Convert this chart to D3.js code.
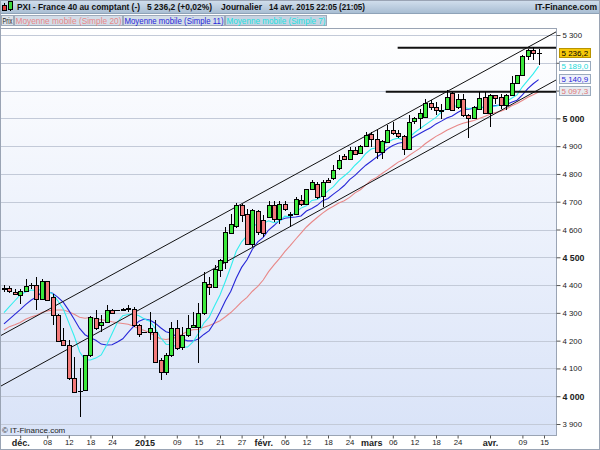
<!DOCTYPE html>
<html><head><meta charset="utf-8">
<script src="https://cdn.jsdelivr.net/npm/d3@7"></script>
<style>body{margin:0;background:#fff}svg{display:block}text{font-family:"Liberation Sans",Arial,sans-serif}</style>
</head><body><svg id="c" width="600" height="450"></svg>
<script>
// ---- data (index 0 = 26 Nov 2014 ... 99 = 14 Apr 2015, every weekday) ----
const opens  = [4387,4390,4375,4363,4379,4399,4399,4351,4415,4357,4294,4201,4183,4064,4019,4022,4148,4283,4255,4267,4309,4309,4311,4315,4315,4255,4230,4231,4231,4130,4087,4148,4244,4177,4219,4249,4249,4298,4405,4393,4453,4483,4587,4612,4687,4657,4549,4667,4633,4645,4687,4639,4693,4657,4657,4705,4693,4747,4763,4719,4777,4784,4823,4863,4855,4887,4875,4899,4942,4927,4879,4915,4957,4947,4935,4891,4990,5003,5005,5055,5041,5031,5035,5091,5041,5071,5013,5001,5035,5077,5019,5083,5077,5049,5085,5127,5155,5224,5247,5234];
const highs  = [4399,4396,4385,4385,4423,4408,4429,4423,4416,4369,4295,4244,4201,4141,4100,4150,4288,4309,4291,4327,4315,4309,4316,4327,4320,4259,4230,4303,4273,4136,4154,4267,4273,4249,4291,4303,4335,4447,4429,4471,4495,4609,4657,4694,4693,4675,4675,4669,4651,4703,4703,4703,4703,4663,4717,4723,4747,4777,4771,4777,4784,4831,4867,4871,4897,4896,4903,4951,4951,4957,4921,4975,4987,4957,4939,5011,5005,5035,5071,5065,5059,5053,5101,5095,5089,5086,5017,5043,5095,5095,5089,5083,5086,5089,5151,5157,5229,5251,5256,5251];
const lows   = [4376,4373,4365,4333,4375,4387,4309,4348,4345,4255,4195,4183,4058,4011,3926,4019,4141,4237,4231,4262,4300,4309,4306,4302,4249,4213,4230,4201,4118,4058,4076,4141,4166,4166,4212,4244,4118,4291,4363,4392,4429,4459,4585,4604,4626,4543,4537,4579,4572,4643,4627,4621,4667,4609,4655,4683,4687,4741,4711,4681,4766,4777,4813,4849,4851,4867,4873,4897,4897,4855,4855,4911,4939,4931,4867,4888,4981,4963,5003,5029,5011,4999,5029,5029,5035,5005,4931,4999,5029,5017,4969,5053,5035,5031,5083,5125,5152,5209,5209,5191];
const closes = [4390,4378,4369,4379,4396,4400,4351,4415,4348,4291,4198,4186,4064,4016,4017,4148,4285,4244,4267,4309,4301,4309,4313,4317,4255,4223,4230,4244,4123,4087,4148,4244,4172,4219,4245,4255,4298,4411,4393,4459,4489,4591,4621,4687,4651,4549,4669,4591,4586,4687,4636,4691,4675,4651,4708,4691,4744,4771,4717,4771,4771,4813,4849,4855,4887,4873,4899,4939,4927,4879,4917,4957,4947,4935,4891,4987,5003,5019,5055,5041,5029,5026,5077,5031,5071,5013,5001,5041,5073,5019,5083,5074,5047,5085,5127,5155,5224,5247,5235.2,5236.2];
// closes of the 19 sessions before the first visible one (feed the moving averages)
const priorCloses = [4141,4233,4210,4168,4232,4242,4208,4230,4246,4184,4186,4189,4196,4230,4218,4230,4325,4349,4364];
const maPeriods = [20, 11, 7];
const maColors  = ["#e88888", "#2626d8", "#33eeee"];
const yTicks = [3900,4000,4100,4200,4300,4400,4500,4600,4700,4800,4900,5000,5100,5200,5300];
const yBold  = [4000,4500,5000];
const yHidden = [5100,5200]; // covered by the last-value tags
const xTickIdx    = [3,8,12,16,20,26,32,36,40,44,48,52,56,60,64,68,72,76,80,84,90,96,100];
const xTickLabels = ["déc.","08","12","18","24","2015","09","15","21","27","févr.","06","12","18","24","mars","06","12","18","24","avr.","09","15"];
const xTickBold   = ["déc.","2015","févr.","mars","avr."];
// drawn trend lines (index, value) and horizontal levels
const channelUpper = [{i:-1, v:4214}, {i:104, v:5330}];
const channelLower = [{i:-1, v:4032}, {i:104, v:5157}];
const levelHigh = [{i:72.9, v:5254}, {i:104, v:5254}];
const levelLow  = [{i:70.7, v:5096}, {i:104, v:5096}];
const tagValues = [5236.2, 5189.0, 5140.9, 5097.3];

// ---- setup ----
const svg = d3.select("#c");
const W = 600, H = 450;
const P = {l:0, r:556, t:28, b:435};
const x = d3.scaleLinear().domain([0, 99]).range([4, 4 + 99*5.4]);
const y = d3.scaleLinear().domain([3900, 5300]).range([424, 35]);
const fr = d3.formatLocale({decimal:",", thousands:" ", grouping:[3], currency:["","€"]});
const fInt = fr.format(","), f1 = fr.format(",.1f");

const defs = svg.append("defs");
const gH = defs.append("linearGradient").attr("id","gh").attr("x1",0).attr("y1",0).attr("x2",0).attr("y2",1);
gH.append("stop").attr("offset","0").attr("stop-color","#d3e0ee");
gH.append("stop").attr("offset","1").attr("stop-color","#a9bed3");
const gP = defs.append("linearGradient").attr("id","gp").attr("x1",0).attr("y1",0).attr("x2",0).attr("y2",1);
gP.append("stop").attr("offset","0").attr("stop-color","#ffffff");
gP.append("stop").attr("offset","1").attr("stop-color","#d9e3f8");
defs.append("clipPath").attr("id","clip").append("rect").attr("x",P.l+1).attr("y",P.t+1).attr("width",P.r-P.l-1).attr("height",P.b-P.t-1);

svg.append("rect").attr("width",W).attr("height",H).attr("fill","#fff");

// header
svg.append("rect").attr("x",0).attr("y",0).attr("width",W).attr("height",13).attr("fill","url(#gh)");
svg.append("line").attr("x1",0).attr("x2",W).attr("y1",13.5).attr("y2",13.5).attr("stroke","#8fa3b8");
// icon
svg.append("line").attr("x1",4.5).attr("x2",4.5).attr("y1",3).attr("y2",11).attr("stroke","#000");
svg.append("rect").attr("x",2.5).attr("y",5.5).attr("width",4).attr("height",5).attr("fill","#e53b3b").attr("stroke","#000");
svg.append("line").attr("x1",10.5).attr("x2",10.5).attr("y1",0).attr("y2",11).attr("stroke","#000");
svg.append("rect").attr("x",8.5).attr("y",1.5).attr("width",4).attr("height",8).attr("fill","#3ad83a").attr("stroke","#000");
const hdr = (tx, xx, len) => svg.append("text").attr("x",xx).attr("y",10).attr("font-size",8.8).attr("font-weight","bold")
  .attr("fill","#111").attr("textLength",len).attr("lengthAdjust","spacingAndGlyphs").text(tx);
hdr("PXI - France 40 au comptant (-)", 17, 123);
hdr("5 236,2 (+0,02%)", 147, 65);
hdr("Journalier", 221, 41);
hdr("14 avr. 2015 22:05 (21:05)", 269, 96);
hdr("IT-Finance.com", 535, 62);

// legend boxes
const legend = [
  {t:"Prix", x0:1, x1:13, c:"#222", bg:"#dde2e8"},
  {t:"Moyenne mobile (Simple 20)", x0:14, x1:122, c:maColors[0], bg:"#d3dde8"},
  {t:"Moyenne mobile (Simple 11)", x0:123, x1:224, c:maColors[1], bg:"#d3dde8"},
  {t:"Moyenne mobile (Simple 7)", x0:225, x1:326, c:"#22e0e0", bg:"#c6d3e2"}
];
legend.forEach(d=>{
  svg.append("rect").attr("x",d.x0+0.5).attr("y",15.5).attr("width",d.x1-d.x0).attr("height",10).attr("fill",d.bg).attr("stroke","#9eaaba");
  svg.append("text").attr("x",d.x0+1.5).attr("y",23.5).attr("font-size",8.4).attr("fill",d.c)
    .attr("textLength",d.x1-d.x0-2).attr("lengthAdjust","spacingAndGlyphs").text(d.t);
});

// plot background
svg.append("rect").attr("x",P.l).attr("y",P.t).attr("width",P.r-P.l).attr("height",P.b-P.t).attr("fill","url(#gp)");
// grid
svg.append("g").selectAll("line").data(yTicks).join("line")
  .attr("x1",P.l).attr("x2",P.r).attr("y1",d=>Math.round(y(d))+0.5).attr("y2",d=>Math.round(y(d))+0.5)
  .attr("stroke","#c3cad8");

const plot = svg.append("g").attr("clip-path","url(#clip)");

// moving averages computed from closes
const allCloses = priorCloses.concat(closes);
const off = priorCloses.length;
maPeriods.forEach((n,k)=>{
  const pts = closes.map((c,i)=>{
    const j = i + off;
    const win = allCloses.slice(Math.max(0, j-n+1), j+1);
    return [i, d3.mean(win)];
  });
  plot.append("path").datum(pts).attr("fill","none").attr("stroke",maColors[k]).attr("stroke-width",1.1)
    .attr("d", d3.line().x(d=>x(d[0])).y(d=>y(d[1])));
});

// trend lines
const ln = d3.line().x(d=>x(d.i)).y(d=>y(d.v));
[channelUpper, channelLower].forEach(a=>plot.append("path").datum(a).attr("d",ln).attr("stroke","#111").attr("stroke-width",1).attr("fill","none"));
[levelHigh, levelLow].forEach(a=>plot.append("path").datum(a).attr("d",ln).attr("stroke","#111").attr("stroke-width",2).attr("fill","none"));

// candles
const cg = plot.append("g").attr("shape-rendering","crispEdges");
closes.forEach((c,i)=>{
  const cx = Math.round(x(i));
  const o = opens[i];
  cg.append("line").attr("x1",cx+0.5).attr("x2",cx+0.5).attr("y1",y(highs[i])).attr("y2",y(lows[i])).attr("stroke","#000");
  const top = Math.round(y(Math.max(o,c))), bot = Math.round(y(Math.min(o,c)));
  if (bot - top < 1) {
    cg.append("line").attr("x1",cx-2).attr("x2",cx+3).attr("y1",top+0.5).attr("y2",top+0.5).attr("stroke","#000");
  } else {
    cg.append("rect").attr("x",cx-1.5).attr("y",top+0.5).attr("width",4).attr("height",bot-top)
      .attr("fill", c>=o ? "#3be83b" : "#f27a7a").attr("stroke","#000");
  }
});

// plot frame
svg.append("rect").attr("x",P.l+0.5).attr("y",P.t+0.5).attr("width",P.r-P.l).attr("height",P.b-P.t).attr("fill","none").attr("stroke","#9aa4b4");

// right axis
const ya = d3.axisRight(y).tickValues(yTicks).tickSize(4).tickPadding(2)
  .tickFormat(d=>yHidden.includes(d) ? "" : fInt(d));
const yg = svg.append("g").attr("transform",`translate(${P.r+0.5},0)`).call(ya);
yg.select(".domain").remove();
yg.selectAll(".tick line").attr("stroke","#555");
yg.selectAll("text").attr("fill","#222").attr("font-family",null)
  .attr("font-weight",d=>yBold.includes(d)?"bold":"normal").style("font-size",d=>yBold.includes(d)?"8.8px":"7.8px");

// bottom axis
const xa = d3.axisBottom(x).tickValues(xTickIdx).tickSize(3).tickPadding(1).tickFormat((d,i)=>xTickLabels[i]);
const xg = svg.append("g").attr("transform",`translate(0,${P.b+0.5})`).call(xa);
xg.select(".domain").remove();
xg.selectAll(".tick line").attr("stroke","#555");
xg.selectAll("text").attr("fill","#222").attr("font-family",null)
  .attr("font-weight",(d,i)=>xTickBold.includes(xTickLabels[i])?"bold":"normal")
  .style("font-size",(d,i)=>xTickBold.includes(xTickLabels[i])?"9px":"7.8px");

// copyright
svg.append("text").attr("x",2).attr("y",433).attr("font-size",8).attr("fill","#222").text("© IT-Finance.com");

// last value tags
const tagStyle = [
  {txt:"#000", bg:"#f6c80a", bd:"#b89400"},
  {txt:"#22dada", bg:"#ffffff", bd:"#9aaabd"},
  {txt:"#2626d8", bg:"#eef0fa", bd:"#9aaabd"},
  {txt:"#e07878", bg:"#e8ebf0", bd:"#9aaabd"}
];
tagValues.forEach((v,k)=>{
  const t = tagStyle[k];
  const yy = Math.round(y(v));
  svg.append("rect").attr("x",559.5).attr("y",yy-4.5).attr("width",31).attr("height",9).attr("fill",t.bg).attr("stroke",t.bd);
  svg.append("text").attr("x",561.5).attr("y",yy+3).attr("font-size",8).attr("fill",t.txt).text(f1(v));
});

// outer frame
svg.append("rect").attr("x",0.5).attr("y",0.5).attr("width",W-1).attr("height",H-1).attr("fill","none").attr("stroke","#9aa4b4");
</script></body></html>
